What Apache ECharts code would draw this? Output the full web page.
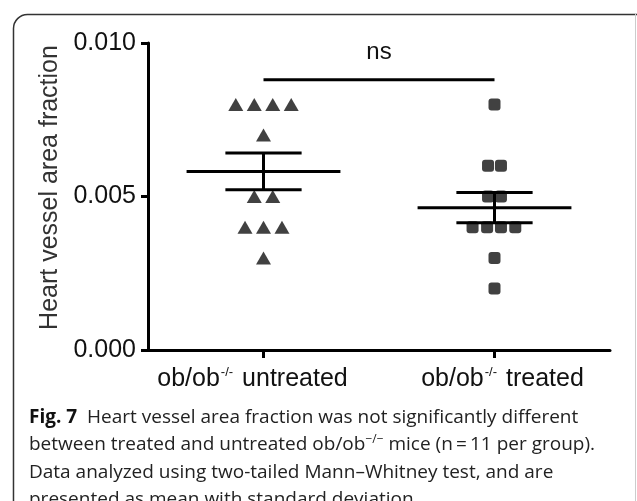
<!DOCTYPE html>
<html>
<head>
<meta charset="utf-8">
<script src="https://cdn.jsdelivr.net/npm/echarts@6/dist/echarts.min.js"></script>
<style>
html,body{margin:0;padding:0;background:#fff;}
#chart{width:637px;height:501px;}
</style>
</head>
<body>
<div id="chart"></div>
<script>
// ---- data ----
const groupNames = ['untreated', 'treated'];
const groupX = [1, 2];
const yTicks = [0, 0.005, 0.010];
// untreated (triangles)
const untreatedValues = [0.008, 0.008, 0.008, 0.008, 0.007, 0.005, 0.005, 0.004, 0.004, 0.004, 0.003];
const untreatedJitter = [-0.12, -0.04, 0.04, 0.12, 0, -0.04, 0.04, -0.08, 0, 0.08, 0];
// treated (squares)
const treatedValues = [0.008, 0.006, 0.006, 0.005, 0.005, 0.004, 0.004, 0.004, 0.004, 0.003, 0.002];
const treatedJitter = [0, -0.028, 0.028, -0.028, 0.028, -0.095, -0.032, 0.028, 0.09, 0, 0];
const sigLevel = 0.0088;
const sigText = 'ns';

function mean(a){ return a.reduce((s,v)=>s+v,0)/a.length; }
function sem(a){ const m=mean(a); const v=a.reduce((s,x)=>s+(x-m)*(x-m),0)/(a.length-1); return Math.sqrt(v/a.length); }

const untreatedPts = untreatedValues.map((v,i)=>[groupX[0]+untreatedJitter[i], v]);
const treatedPts = treatedValues.map((v,i)=>[groupX[1]+treatedJitter[i], v]);
const summary = [
  [groupX[0], mean(untreatedValues), sem(untreatedValues)],
  [groupX[1], mean(treatedValues), sem(treatedValues)]
];

const FONT = '"Liberation Sans", Arial, sans-serif';
const CAP = '"Open Sans", "Noto Sans", sans-serif';

const chart = echarts.init(document.getElementById('chart'), null, {renderer:'canvas'});

chart.setOption({
  animation: false,
  backgroundColor: '#fff',
  grid: {left: 148, right: 27, top: 43, bottom: 151, containLabel: false},
  xAxis: {
    type: 'value', min: 0.5, max: 2.5,
    splitLine: {show: false},
    axisLine: {show: true, onZero: false, lineStyle: {color: '#000', width: 3}},
    axisTick: {show: true, customValues: groupX, length: 8, lineStyle: {color: '#000', width: 3}},
    axisLabel: {
      show: true, customValues: groupX, margin: 16,
      formatter: function(v){
        const i = groupX.indexOf(Math.round(v));
        const body = '{a|ob/ob}{s|-/-}{a| ' + groupNames[i] + '}';
        return i === 0 ? body + '{r|}' : '{l|}' + body;
      },
      rich: {
        a: {fontFamily: FONT, fontSize: 25, color: '#111'},
        s: {fontFamily: FONT, fontSize: 13, color: '#111', padding: [0, 2, 14, 1]},
        r: {width: 22},
        l: {width: 16}
      }
    }
  },
  yAxis: {
    type: 'value', min: 0, max: 0.010, interval: 0.005,
    name: 'Heart vessel area fraction', nameLocation: 'middle', nameGap: 82,
    nameTextStyle: {fontFamily: FONT, fontSize: 25, color: '#333', padding: [0, 0, 0, 18]},
    splitLine: {show: false},
    axisLine: {show: true, lineStyle: {color: '#000', width: 3}},
    axisTick: {show: true, length: 7, lineStyle: {color: '#000', width: 3}},
    axisLabel: {fontFamily: FONT, fontSize: 25, color: '#111', margin: 12,
      formatter: v => v.toFixed(3)}
  },
  series: [
    {
      type: 'scatter', data: untreatedPts, symbol: 'triangle', symbolSize: [15, 13],
      itemStyle: {color: '#111'}, z: 3
    },
    {
      type: 'scatter', data: treatedPts, symbol: 'roundRect', symbolSize: [12, 12],
      itemStyle: {color: '#111'}, z: 3
    },
    {
      type: 'custom', data: summary, z: 4,
      renderItem: function(params, api){
        const x = api.value(0), m = api.value(1), s = api.value(2);
        const c = api.coord([x, m]);
        const t = api.coord([x, m + s]);
        const b = api.coord([x, m - s]);
        const hw = api.size([0.333, 0])[0];
        const cw = api.size([0.165, 0])[0];
        const st = {stroke: '#000', lineWidth: 3};
        return {type: 'group', children: [
          {type: 'line', shape: {x1: c[0]-hw, y1: c[1], x2: c[0]+hw, y2: c[1]}, style: st},
          {type: 'line', shape: {x1: t[0], y1: t[1], x2: b[0], y2: b[1]}, style: st},
          {type: 'line', shape: {x1: t[0]-cw, y1: t[1], x2: t[0]+cw, y2: t[1]}, style: st},
          {type: 'line', shape: {x1: b[0]-cw, y1: b[1], x2: b[0]+cw, y2: b[1]}, style: st}
        ]};
      }
    },
    {
      type: 'custom', data: [[groupX[0], groupX[1], sigLevel]], z: 4,
      renderItem: function(params, api){
        const a = api.coord([api.value(0), api.value(2)]);
        const b = api.coord([api.value(1), api.value(2)]);
        return {type: 'group', children: [
          {type: 'line', shape: {x1: a[0], y1: a[1], x2: b[0], y2: b[1]}, style: {stroke: '#000', lineWidth: 3}},
          {type: 'text', x: (a[0]+b[0])/2, y: a[1] - 15,
            style: {text: sigText, fontFamily: FONT, fontSize: 24, fill: '#111', align: 'center', verticalAlign: 'bottom'}}
        ]};
      }
    }
  ],
  graphic: [
    {type: 'rect', shape: {x: 13.5, y: 14.5, width: 640, height: 540, r: 14},
      style: {fill: 'none', stroke: '#333', lineWidth: 1.5}, z: 0},
    {type: 'line', shape: {x1: 635.5, y1: 14, x2: 635.5, y2: 501},
      style: {stroke: '#ccc', lineWidth: 1}, z: 0},
    {type: 'text', left: 29, top: 408,
      style: {
        text: '{b|Fig. 7}{n|  Heart vessel area fraction was not significantly different}\n' +
              '{n|between treated and untreated ob/ob}{s|−/−}{n| mice (n\u2009=\u200911 per group).}\n' +
              '{n|Data analyzed using two-tailed Mann–Whitney test, and are}\n' +
              '{n|presented as mean with standard deviation.}',
        rich: {
          b: {fontFamily: CAP, fontSize: 19, fontWeight: 'bold', fill: '#111', lineHeight: 27.5},
          n: {fontFamily: CAP, fontSize: 19, fill: '#222', lineHeight: 27.5},
          s: {fontFamily: CAP, fontSize: 12, fill: '#222', lineHeight: 27.5, padding: [0, 0, 10, 0]}
        }
      }}
  ]
});
</script>
</body>
</html>
